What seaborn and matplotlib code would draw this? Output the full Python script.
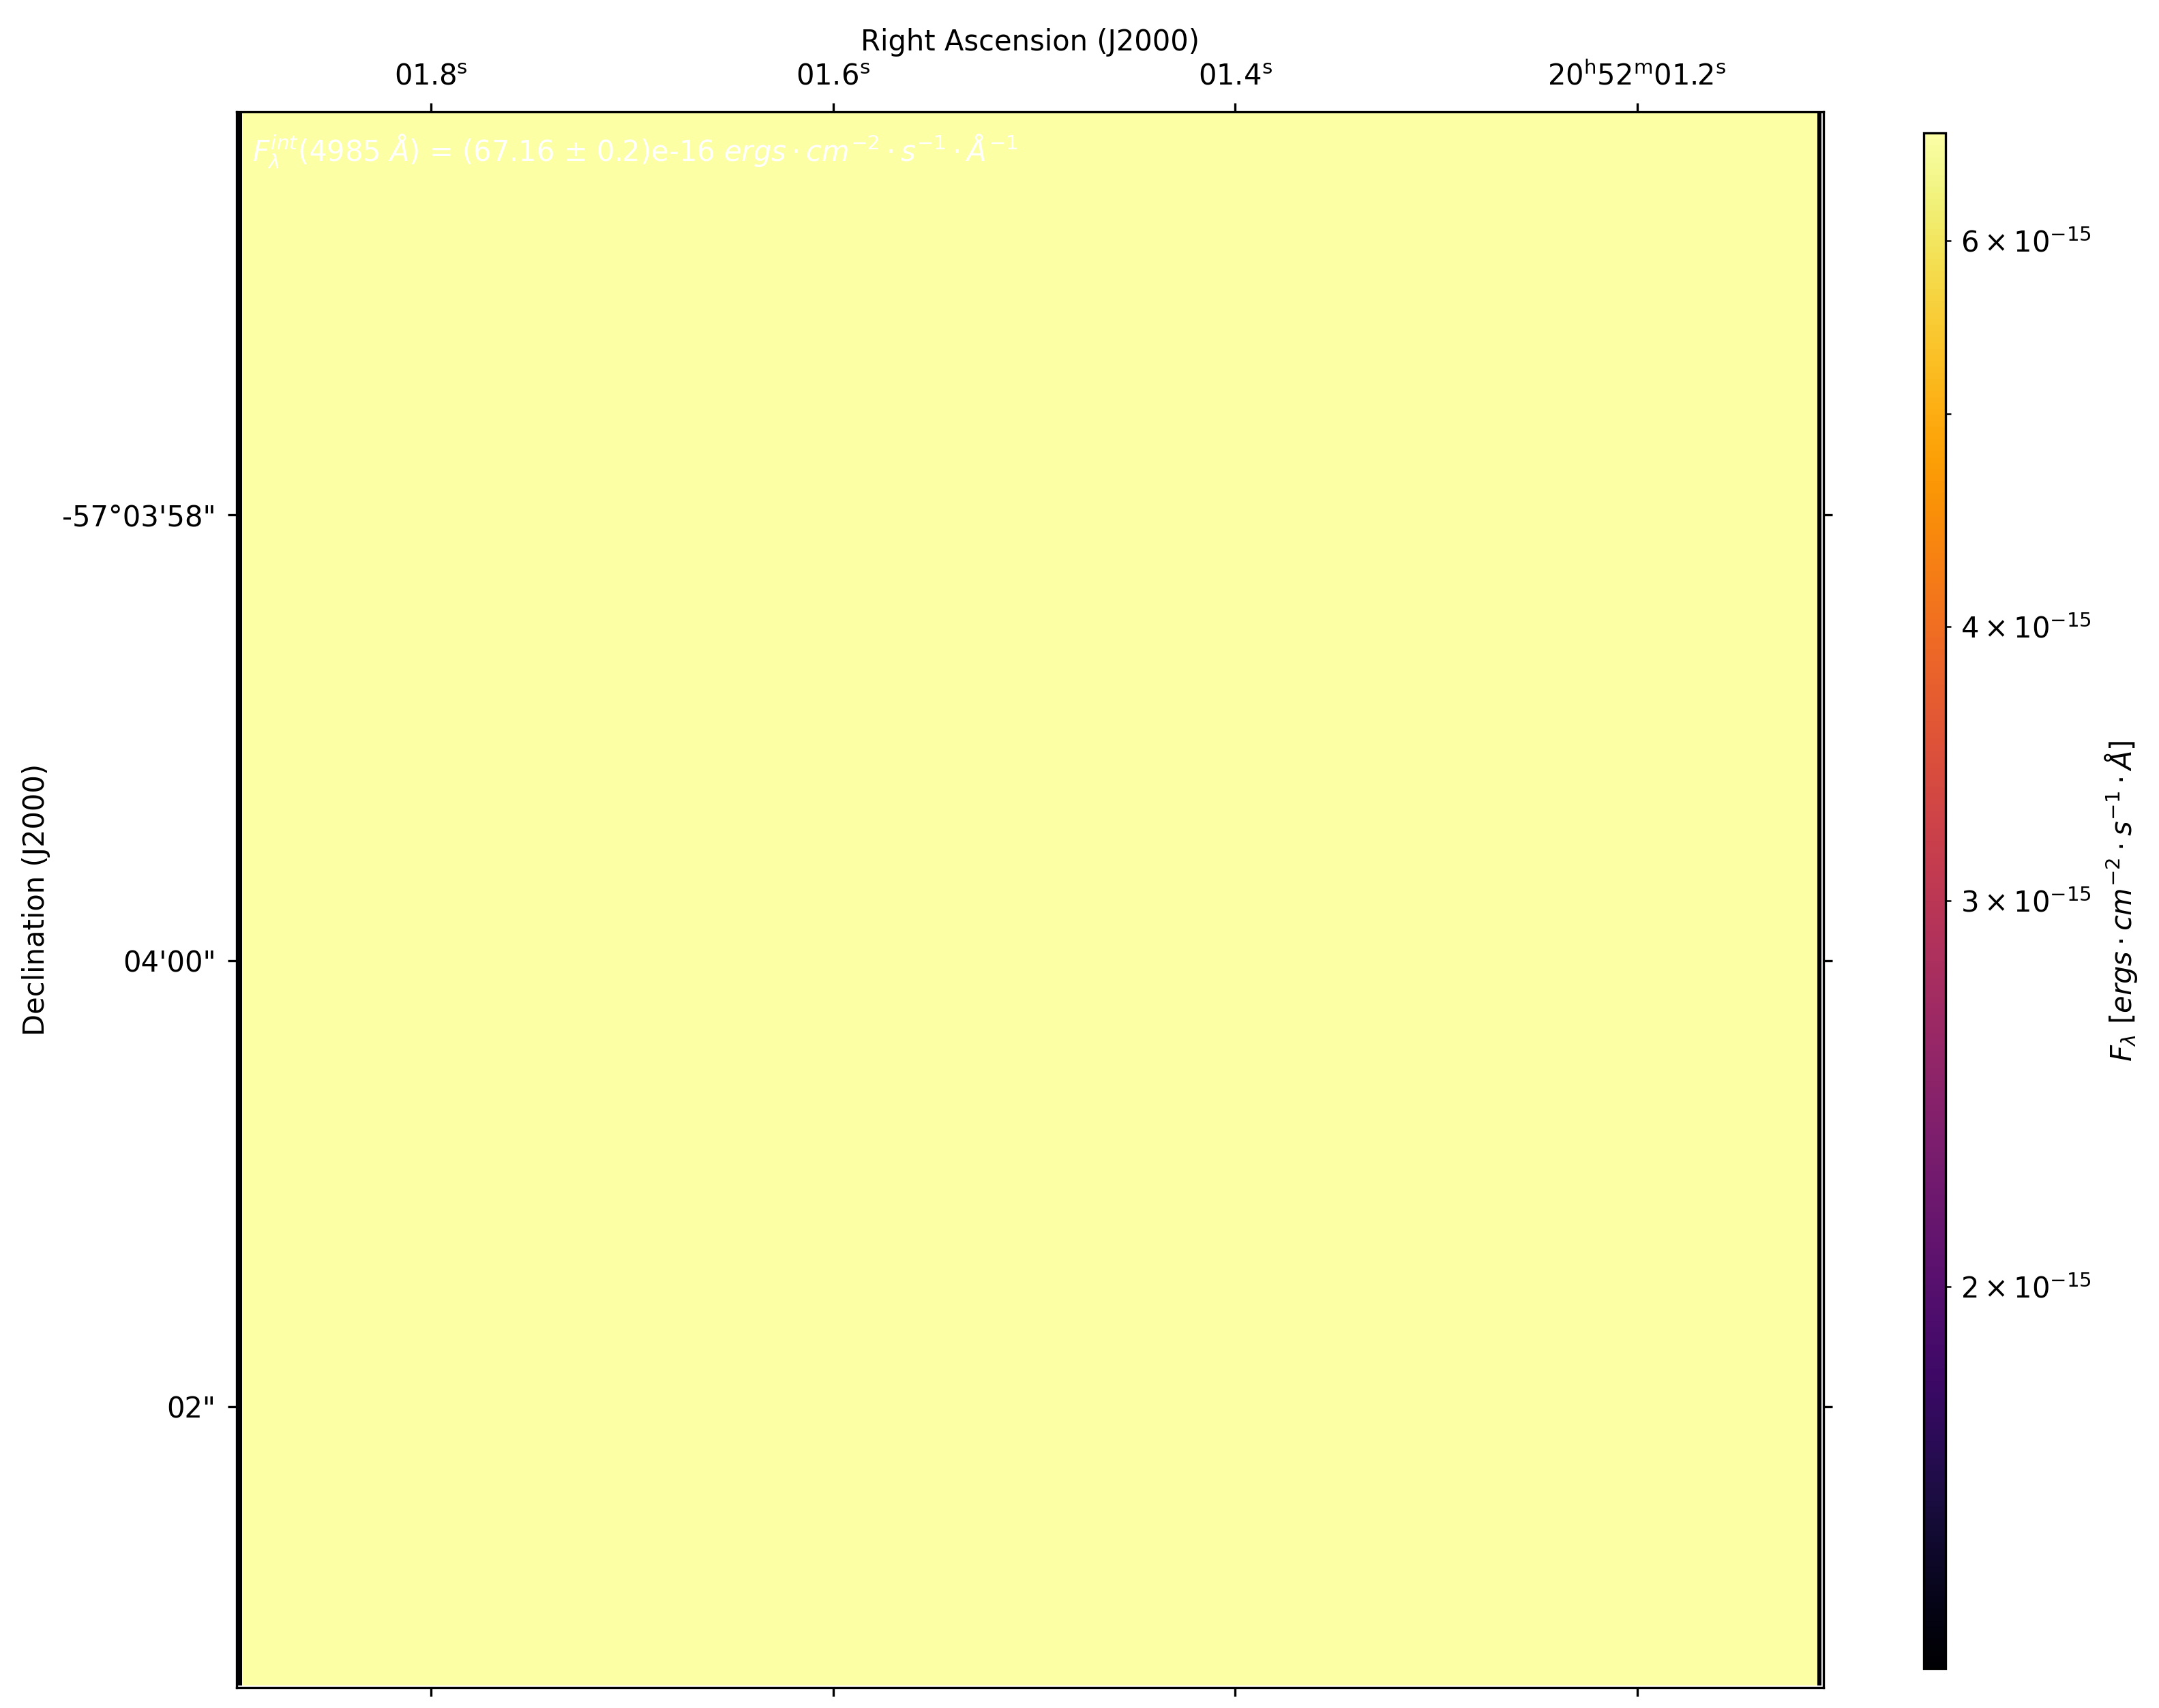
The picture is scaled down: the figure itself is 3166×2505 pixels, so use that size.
import matplotlib

matplotlib.use("Agg")

import numpy as np
import matplotlib.pyplot as plt
import seaborn as sns
from matplotlib.colors import LogNorm

# x: RA seconds past 20h52m, y: Dec arcsec past -57d03m (negative = further south)
ra_edges = [1.1084, 1.1104, 1.8940, 1.8970]
dec_edges = [-63.25, -56.19]
flux = [[1.2e-15, 6.716e-15, 1.2e-15]]  # ergs/cm2/s/A per spaxel column
vmin, vmax = 1.34e-15, 6.716e-15

ra_ticks = [1.8, 1.6, 1.4, 1.2]
ra_ticklabels = [r"01.8$^{\mathrm{s}}$", r"01.6$^{\mathrm{s}}$", r"01.4$^{\mathrm{s}}$",
                 r"20$^{\mathrm{h}}$52$^{\mathrm{m}}$01.2$^{\mathrm{s}}$"]
dec_ticks = [-58, -60, -62]
dec_ticklabels = ["-57°03'58\"", "04'00\"", "02\""]
ra_lim = (1.8967, 1.1073)
dec_lim = (-63.258, -56.193)

flux_label = r"$F_\lambda^{int}$(4985 $\AA$) = (67.16 $\pm$ 0.2)e-16 $ergs \cdot cm^{-2} \cdot s^{-1} \cdot \AA^{-1}$"
cbar_label = r"$F_\lambda$ [$ergs \cdot cm^{-2} \cdot s^{-1} \cdot \AA$]"

sns.set_style("ticks", rc={"axes.edgecolor": "black", "text.color": "black",
                           "axes.labelcolor": "black", "xtick.color": "black",
                           "ytick.color": "black"})
plt.rcParams["font.family"] = ["DejaVu Sans"]
plt.rcParams["font.size"] = 10

fig = plt.figure(figsize=(3166 / 300, 2505 / 300), dpi=300)
ax = fig.add_axes([0.1096, 0.01198, 0.7350, 0.92255])
cax = fig.add_axes([0.8910, 0.02315, 0.0101, 0.8990])

mesh = ax.pcolormesh(ra_edges, dec_edges, np.array(flux), cmap="inferno",
                     norm=LogNorm(vmin=vmin, vmax=vmax))
ax.set_xlim(*ra_lim)
ax.set_ylim(*dec_lim)
ax.set_aspect("auto")

ax.set_xticks(ra_ticks)
ax.set_xticklabels(ra_ticklabels)
ax.set_yticks(dec_ticks)
ax.set_yticklabels(dec_ticklabels)
ax.tick_params(direction="out", length=3.1, width=0.8, pad=4.2,
               top=True, labeltop=True, bottom=True, labelbottom=False,
               left=True, labelleft=True, right=True, labelright=False)
ax.xaxis.set_label_position("top")
ax.set_xlabel("Right Ascension (J2000)")
ax.set_ylabel("Declination (J2000)")
for s in ax.spines.values():
    s.set_linewidth(0.8)

ax.text(0.01, 0.987, flux_label, transform=ax.transAxes, color="white",
        fontsize=10, ha="left", va="top")

cb = fig.colorbar(mesh, cax=cax)
cb.set_label(cbar_label)

fig.savefig("out.png", dpi=300)
